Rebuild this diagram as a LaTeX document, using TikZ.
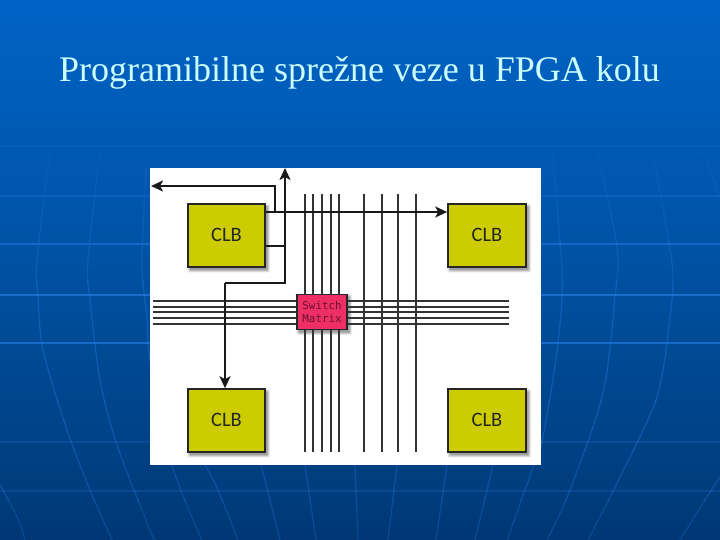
\documentclass[tikz,border=0pt]{standalone}
\usepackage{fontspec}
\setmainfont{Liberation Serif}
\newfontfamily\clbfont{Carlito}
\newfontfamily\swfont{DejaVu Sans Mono}
\usetikzlibrary{arrows.meta,calc}
\definecolor{clbfill}{HTML}{CCCC00}
\definecolor{swfill}{HTML}{EE2F66}
\definecolor{swtext}{HTML}{6A1030}
\definecolor{titlecol}{HTML}{CCFFFF}
\definecolor{gridcol}{HTML}{2A80E8}
\pgfdeclareverticalshading{slidebg}{100bp}{
 rgb(0bp)=(0,0.14,0.31);
 rgb(16.7bp)=(0,0.18,0.39);
 rgb(35bp)=(0,0.26,0.53);
 rgb(54bp)=(0,0.33,0.66);
 rgb(76bp)=(0,0.39,0.78);
 rgb(100bp)=(0,0.40,0.80)}
\tikzset{
 x=1pt,y=-1pt,
 wire/.style={line width=2pt,draw=black!80},
 conn/.style={line width=2pt,draw=black!90},
 arrowed/.style={conn,-{Stealth[length=12pt,width=11pt,inset=3pt]}},
 clb/.style={draw=black!85,line width=1.6pt,fill=clbfill,minimum width=77pt,minimum height=63pt,inner sep=0pt,font=\clbfont\fontsize{20.5}{20.5}\selectfont,text=black!85},
 sw/.style={draw=black!85,line width=1.6pt,fill=swfill,minimum width=50pt,minimum height=35pt,inner sep=0pt,align=center,font=\swfont\fontsize{10.8}{13}\selectfont,text=swtext},
 gridline/.style={draw=gridcol,line width=1.3pt},
}
\newcommand{\softshadow}[4]{%
 \foreach \d/\o in {3.6/0.06,2.8/0.08,2.0/0.12,1.2/0.18}{
  \fill[black,opacity=\o,rounded corners=1pt] ({#1-\d+3},{#2-\d+3.5}) rectangle ({#3+\d+1.5},{#4+\d+2});}}
\newcommand{\meridians}{%
 \draw[gridline] plot[smooth] coordinates {(50,150) (37,260) (38,295) (43,350) (67,430) (90,490) (112,540)};
 \draw[gridline] plot[smooth] coordinates {(100,150) (88,260) (90,300) (100,380) (117,445) (150,530) (156,540)};
 \draw[gridline] plot[smooth] coordinates {(147,150) (142,263) (147,317) (150,360) (172,465) (202,540)};
 \draw[gridline] plot[smooth] coordinates {(205,465) (218,490) (238,540)};
 \draw[gridline] plot[smooth] coordinates {(261,465) (270,500) (280,540)};
 \draw[gridline] plot[smooth] coordinates {(305,465) (316,540)};
 \draw[gridline] plot[smooth] coordinates {(355,465) (358,540)};
 \draw[gridline] plot[smooth] coordinates {(397,465) (388,540)};
 \draw[gridline] plot[smooth] coordinates {(447,465) (436,540)};
 \draw[gridline] plot[smooth] coordinates {(493,465) (475,540)};
 \draw[gridline] plot[smooth] coordinates {(534,465) (507,540)};
 \draw[gridline] plot[smooth] coordinates {(552,150) (562,273) (558,343) (543,437) (534,465)};
 \draw[gridline] plot[smooth] coordinates {(597,150) (617,247) (615,297) (603,393) (570,490) (547,540)};
 \draw[gridline] plot[smooth] coordinates {(652,150) (672,263) (670,317) (657,397) (620,477) (588,540)};
 \draw[gridline] plot[smooth] coordinates {(702,150) (720,197)};
 \draw[gridline] plot[smooth] coordinates {(720,477) (703,503) (680,540)};
 \draw[gridline] plot[smooth] coordinates {(0,485) (17,517) (25,540)};
}
\begin{document}
\begin{tikzpicture}
\useasboundingbox (0,0) rectangle (720,540);
\shade[shading=slidebg] (0,0) rectangle (720,540);
% globe grid, fading out towards the top
\foreach \ya/\yb/\o in {150/175/0.10,175/205/0.16,205/240/0.22,240/280/0.28,280/350/0.34,350/400/0.36,400/450/0.34,450/500/0.30,500/540/0.26}{
 \begin{scope}[opacity=\o]
  \clip (0,\ya) rectangle (720,\yb);
  \meridians
 \end{scope}
}
\foreach \yy/\o in {146/0.12,196/0.25,244/0.45,295/0.6,343/0.6,442/0.2,491/0.2}{
 \draw[gridline,opacity=\o] (0,\yy) -- (720,\yy);}
% white panel
\fill[white] (150,168) rectangle (541,465);
% shadows
\softshadow{188}{204}{265}{267}
\softshadow{448}{204}{526}{267}
\softshadow{188}{389}{265}{452}
\softshadow{448}{389}{526}{452}
\softshadow{297}{294}{347}{329.5}
% wire ends
\coordinate (vt1) at (305,194); \coordinate (vb1) at (305,452);
\coordinate (vt2) at (313,194); \coordinate (vb2) at (313,452);
\coordinate (vt3) at (322,194); \coordinate (vb3) at (322,452);
\coordinate (vt4) at (331,194); \coordinate (vb4) at (331,452);
\coordinate (vt5) at (339,194); \coordinate (vb5) at (339,452);
\coordinate (vt6) at (364,194); \coordinate (vb6) at (364,452);
\coordinate (vt7) at (382,194); \coordinate (vb7) at (382,452);
\coordinate (vt8) at (398,194); \coordinate (vb8) at (398,452);
\coordinate (vt9) at (416,194); \coordinate (vb9) at (416,452);
\coordinate (hl1) at (153,301); \coordinate (hr1) at (509,301);
\coordinate (hl2) at (153,307); \coordinate (hr2) at (509,307);
\coordinate (hl3) at (153,312); \coordinate (hr3) at (509,312);
\coordinate (hl4) at (153,318); \coordinate (hr4) at (509,318);
\coordinate (hl5) at (153,324); \coordinate (hr5) at (509,324);
\foreach \i in {1,...,9}{\draw[wire] (vt\i) -- (vb\i);}
\foreach \i in {1,...,5}{\draw[wire] (hl\i) -- (hr\i);}
\node[clb] (c1) at (226.5,235.5) {\raisebox{1pt}{CLB}};
\node[clb,minimum width=78pt] (c2) at (487,235.5) {\raisebox{1pt}{CLB}\hspace{3pt}};
\node[clb] (c3) at (226.5,420.5) {\raisebox{1pt}{CLB}};
\node[clb,minimum width=78pt] (c4) at (487,420.5) {\raisebox{1pt}{CLB}\hspace{3pt}};
\node[sw] (sm) at (322,311.8) {Switch\\Matrix};
\node[inner sep=0pt,anchor=base] (title) at (359.5,82) {\color{titlecol}\fontsize{36}{40}\selectfont Programibilne sprežne veze u FPGA kolu};
% connectors
\coordinate (up) at (285,168);
\coordinate (bend) at (285,283);
\coordinate (corner) at (225,283);
\coordinate (tapA) at (265.5,212);
\coordinate (tapB) at (275,212);
\coordinate (tapC) at (275,186);
\coordinate (leftEnd) at (151,186);
\draw[arrowed] (corner) -- (bend) -- (up);
\draw[arrowed] (corner) -- (c3.north -| corner);
\draw[conn] (c1.east |- 0,246) -- (285,246);
\draw[arrowed] (tapA) -- (c2.west |- tapA);
\draw[arrowed] (tapB) -- (tapC) -- (leftEnd);
\end{tikzpicture}
\end{document}
